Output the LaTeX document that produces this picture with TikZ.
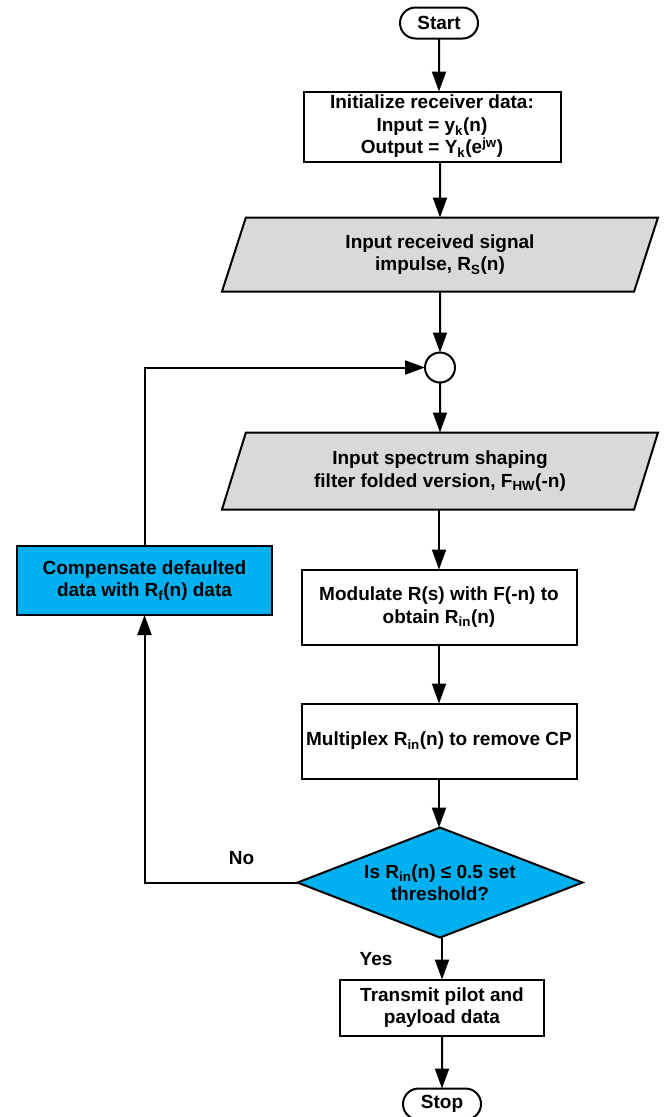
\documentclass[tikz,border=0pt]{standalone}
\usepackage{fontspec}
\setmainfont{Liberation Sans}
\usetikzlibrary{positioning, calc, arrows.meta, shapes.geometric, shapes.misc}
\definecolor{fillblue}{HTML}{00B0F0}
\definecolor{fillgray}{HTML}{D9D9D9}

\begin{document}
\begin{tikzpicture}[x=1pt, y=1pt, every node/.style={font=\bfseries\fontsize{19}{22.5}\selectfont, align=center, outer sep=0pt},
  box/.style={draw, line width=2pt, minimum width=275pt, minimum height=75pt, inner sep=2pt},
  io/.style={trapezium, trapezium left angle=63, trapezium right angle=117, trapezium stretches body, draw, fill=fillgray, line width=2pt, minimum width=436pt, minimum height=74pt},
  term/.style={rounded rectangle, draw, line width=2pt, minimum width=80pt, minimum height=31pt, inner sep=1pt},
  junc/.style={circle, draw, line width=2pt, minimum size=30pt, inner sep=0pt},
  decision/.style={diamond, draw, fill=fillblue, line width=2pt, aspect=2.6, inner sep=0pt, minimum width=285pt, minimum height=110pt},
  arrow/.style={-{Triangle[length=20pt, width=14pt]}, line width=2pt}]
      \useasboundingbox (0,0) rectangle (670,-1117);

      \node[term] (start) at (439,-23) {Start}; \node[box, minimum width=257pt,
      minimum height=70pt, below=53pt of start, xshift=-7pt] (init)
      {Initialize receiver data:\\ Input = y\textsubscript{k}(n)\\ Output =
      Y\textsubscript{k}(e\textsuperscript{jw})}; \node[io, below=56pt of init,
      xshift=8pt] (rsig) {Input received signal\\ impulse, R\textsubscript{S}(n)};
      \node[junc, below=61pt of rsig] (conn) {}; \node[io, minimum height=77pt,
      below=50pt of conn] (filt) {Input spectrum shaping\\ filter folded
      version, F\textsubscript{HW}(-n)}; \node[box, below=60pt of filt,
      xshift=-1pt] (modl) {Modulate R(s) with F(-n) to\\ obtain
      R\textsubscript{in}(n)}; \node[box, below=59pt of modl] (mplx) {Multiplex
      R\textsubscript{in}(n) to remove CP}; \node[decision, below=49pt of mplx,
      xshift=1pt] (thr) {Is R\textsubscript{in}(n) ≤ 0.5 set\\ threshold?};
      \node[box, minimum width=204pt, minimum height=56pt, below=42pt of thr,
      xshift=2pt] (tx) {Transmit pilot and\\ payload data}; \node[term,
      below=53pt of tx] (stop) {Stop}; \node[box, fill=fillblue, minimum
      width=255pt, minimum height=69pt] (comp) at (144.5,-580.5) {Compensate
      defaulted\\ data with R\textsubscript{f}(n) data};

      \node (no) at ([xshift=-56pt, yshift=24pt]thr.west) {No};
      \node (yes) at ([xshift=-64pt, yshift=-22pt]thr.south) {Yes};

      \draw[arrow] (start) -- (start |- init.north); \draw[arrow] (rsig.north
      |- init.south) -- (rsig); \draw[arrow] (rsig) -- (conn); \draw[arrow]
      (conn) -- (filt); \draw[arrow] (filt.south -| modl) -- (modl);
      \draw[arrow] (modl) -- (mplx); \draw[arrow] (mplx) -- (mplx |- thr.north);
      \draw[arrow] (thr.south -| tx) -- (tx); \draw[arrow] (tx) -- (stop);
      \draw[arrow] (thr.west) -| (comp.south); \draw[arrow] (comp.north) |-
      (conn.west);
    \end{tikzpicture}
\end{document}
